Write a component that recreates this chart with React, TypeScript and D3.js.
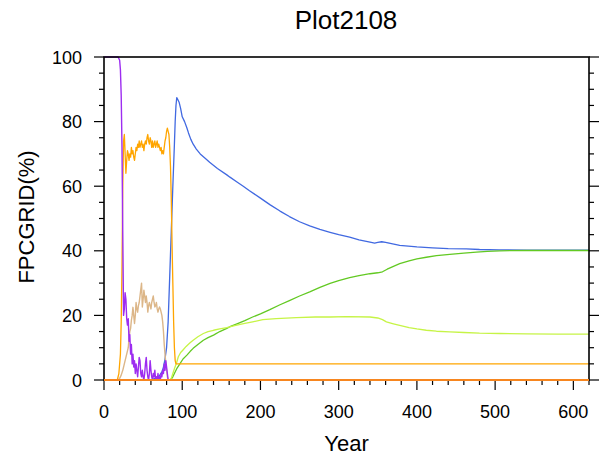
import React from "react";
import * as d3 from "d3";

// Year / percent pairs for each plant functional type curve
const purpleSeries: [number, number][] = [
  [0, 100], [18, 100], [20, 99], [21, 96], [22, 88], [23, 72], [24, 45], [25, 20],
  [26, 22], [27, 27], [28, 25], [29, 19], [30, 17], [31, 19], [32, 12], [33, 14],
  [34, 8], [35, 11], [36, 5], [37, 8], [38, 4], [39, 6], [40, 2], [41, 5], [42, 3],
  [43, 1], [44, 4], [45, 7], [46, 6], [47, 2], [48, 1], [49, 3], [50, 1], [51, 0],
  [52, 2], [53, 5], [54, 7], [55, 3], [56, 1], [57, 0], [58, 2], [59, 6], [60, 3],
  [61, 1], [62, 0], [63, 2], [64, 1], [65, 3], [66, 0], [67, 1], [68, 0], [69, 2],
  [70, 0], [71, 1], [72, 0], [73, 2], [74, 1], [75, 3], [76, 2], [77, 5], [78, 3],
  [79, 6], [80, 4], [81, 2], [82, 0], [620, 0],
];

const orangeSeries: [number, number][] = [
  [0, 0], [17, 0], [19, 2], [21, 8], [22, 18], [23, 35], [24, 60], [25, 74], [26, 76],
  [27, 70], [28, 64], [29, 68], [30, 71], [31, 70], [32, 68], [33, 70], [34, 69],
  [35, 72], [36, 70], [37, 71], [38, 69], [39, 68], [40, 70], [41, 72], [42, 71],
  [43, 73], [44, 72], [45, 74], [46, 72], [47, 73], [48, 74], [49, 72], [50, 73],
  [51, 71], [52, 73], [53, 74], [54, 73], [55, 75], [56, 76], [57, 74], [58, 73],
  [59, 75], [60, 74], [61, 72], [62, 74], [63, 72], [64, 73], [65, 74], [66, 72],
  [67, 73], [68, 74], [69, 72], [70, 73], [71, 72], [72, 71], [73, 72], [74, 70],
  [75, 71], [76, 70], [77, 72], [78, 74], [79, 75], [80, 77], [81, 78], [82, 77],
  [83, 76], [84, 72], [85, 66], [86, 56], [87, 42], [88, 30], [89, 18], [90, 10],
  [91, 6], [92, 5], [620, 5],
];

const tanSeries: [number, number][] = [
  [0, 0], [18, 0], [20, 0.5], [22, 1.5], [24, 3], [26, 5], [28, 7], [30, 9], [31, 10],
  [32, 13], [33, 15], [34, 16], [35, 18.5], [36, 20], [37, 22.5], [38, 20], [39, 17.5],
  [40, 20], [41, 24], [42, 22], [43, 21], [44, 23], [45, 24], [46, 26], [47, 28],
  [48, 30], [49, 22.6], [50, 25], [51, 27.8], [52, 26], [53, 24], [54, 26], [55, 24],
  [56, 21], [57, 23], [58, 24], [59, 23], [60, 22], [61, 24], [62, 25], [63, 26],
  [64, 24], [65, 22.6], [66, 23], [67, 24], [68, 22], [69, 21], [70, 22], [71, 22.6],
  [72, 22], [73, 21], [74, 20], [75, 18], [76, 15], [77, 11], [78, 8], [79, 5],
  [80, 3], [81, 1], [82, 0], [620, 0],
];

const blueSeries: [number, number][] = [
  [0, 0], [60, 0], [65, 0.5], [70, 1], [74, 2.5], [76, 4], [78, 6.5], [80, 10],
  [82, 18], [84, 32], [86, 46], [88, 60], [90, 73], [91, 80], [92, 85], [93, 87.4],
  [94, 87], [96, 86], [98, 84], [100, 81.5], [103, 80], [106, 78], [108, 76.5],
  [111, 74.5], [114, 73], [118, 71.5], [123, 70], [130, 68.5], [135, 67.4],
  [145, 65.5], [157, 63.5], [161, 62.8], [170, 61.3], [178, 60], [186, 58.6],
  [200, 56.3], [212, 54.3], [225, 52.3], [237, 50.6], [250, 49], [263, 47.7],
  [276, 46.6], [289, 45.7], [300, 45], [314, 44.2], [326, 43.4], [340, 42.7],
  [346, 42.4], [350, 42.6], [355, 42.8], [360, 42.6], [378, 41.7], [400, 41.2],
  [420, 40.9], [440, 40.7], [463, 40.6], [480, 40.4], [505, 40.3], [540, 40.2],
  [580, 40.2], [620, 40.2],
];

const greenSeries: [number, number][] = [
  [0, 0], [84, 0], [86, 0.3], [88, 1], [90, 2], [93, 3.5], [97, 5], [101, 6.5],
  [106, 7.7], [110, 8.8], [114, 9.8], [120, 11], [127, 12.3], [133, 13.1], [140, 13.9],
  [148, 15], [157, 16], [161, 16.5], [170, 17.4], [180, 18.4], [190, 19.5], [200, 20.5],
  [212, 21.8], [225, 23.3], [237, 24.6], [250, 26], [263, 27.3], [276, 28.7],
  [289, 29.9], [300, 30.8], [314, 31.7], [326, 32.3], [340, 32.9], [350, 33.2],
  [356, 33.5], [362, 34.3], [370, 35.2], [378, 36], [390, 36.9], [400, 37.5],
  [412, 38], [425, 38.5], [442, 38.9], [460, 39.3], [476, 39.6], [490, 39.8],
  [506, 40], [540, 40.1], [580, 40.1], [620, 40.1],
];

const yellowGreenSeries: [number, number][] = [
  [0, 0], [84, 0], [86, 0.5], [88, 2], [90, 3.5], [93, 5.5], [95, 7.2], [98, 8.5],
  [101, 9.3], [105, 10.4], [110, 11.5], [114, 12.3], [120, 13.4], [127, 14.4],
  [133, 15], [140, 15.4], [148, 15.8], [157, 16.2], [167, 16.8], [180, 17.5],
  [190, 18], [203, 18.7], [220, 19], [246, 19.3], [270, 19.5], [289, 19.5],
  [310, 19.6], [340, 19.5], [350, 19.2], [356, 18.7], [361, 18], [370, 17.4],
  [378, 16.9], [390, 16.2], [400, 15.8], [412, 15.4], [425, 15.1], [442, 14.9],
  [460, 14.7], [480, 14.5], [506, 14.4], [540, 14.3], [580, 14.2], [620, 14.2],
];

const zeroSeries: [number, number][] = [
  [0, 0], [620, 0],
];

const xMajorTicks = [0, 100, 200, 300, 400, 500, 600];
const yMajorTicks = [0, 20, 40, 60, 80, 100];

const titleText = "Plot2108";
const xTitle = "Year";
const yTitle = "FPCGRID(%)";

const curves = [
  { data: blueSeries, color: "#4169e1", width: 1.3 },
  { data: greenSeries, color: "#62c922", width: 1.3 },
  { data: yellowGreenSeries, color: "#c6f446", width: 1.3 },
  { data: tanSeries, color: "#dcb688", width: 1.4 },
  { data: orangeSeries, color: "#ffa500", width: 1.3 },
  { data: purpleSeries, color: "#9d2df0", width: 1.4 },
];

export default function App() {
  const width = 601;
  const height = 459;
  const left = 104;
  const right = 589;
  const top = 57;
  const bottom = 380;

  const x = d3.scaleLinear().domain([0, 620]).range([left, right]);
  const y = d3.scaleLinear().domain([0, 100]).range([bottom, top]);

  const line = d3
    .line<[number, number]>()
    .x((d) => x(d[0]))
    .y((d) => y(d[1]));

  const xMinor = d3.range(0, 621, 20).filter((v) => v % 100 !== 0);
  const yMinor = d3.range(0, 101, 5).filter((v) => v % 20 !== 0);
  const font = "'Liberation Sans', Arial, Helvetica, sans-serif";

  return (
    <svg
      width={width}
      height={height}
      style={{ position: "absolute", left: 0, top: 0, background: "#fff" }}
      fontFamily={font}
    >
      <rect x={0} y={0} width={width} height={height} fill="#fff" />
      <text x={346} y={29} fontSize={26} textAnchor="middle" fill="#000">
        {titleText}
      </text>

      <g fill="none" strokeLinejoin="round">
        {curves.map((c, i) => (
          <path key={i} d={line(c.data) ?? ""} stroke={c.color} strokeWidth={c.width} />
        ))}
      </g>

      {/* frame */}
      <rect
        x={left}
        y={top}
        width={right - left}
        height={bottom - top}
        fill="none"
        stroke="#000"
        strokeWidth={1.6}
      />

      {/* bottom axis ticks */}
      <g stroke="#000" strokeWidth={1.2}>
        {xMajorTicks.map((v) => (
          <line key={"xM" + v} x1={x(v)} x2={x(v)} y1={bottom} y2={bottom + 10} />
        ))}
        {xMinor.map((v) => (
          <line key={"xm" + v} x1={x(v)} x2={x(v)} y1={bottom} y2={bottom + 5} />
        ))}
        {yMajorTicks.map((v) => (
          <g key={"yM" + v}>
            <line x1={left - 10} x2={left} y1={y(v)} y2={y(v)} />
            <line x1={right} x2={right + 10} y1={y(v)} y2={y(v)} />
          </g>
        ))}
        {yMinor.map((v) => (
          <g key={"ym" + v}>
            <line x1={left - 5} x2={left} y1={y(v)} y2={y(v)} />
            <line x1={right} x2={right + 5} y1={y(v)} y2={y(v)} />
          </g>
        ))}
      </g>

      {/* zero-level curve drawn over the bottom border */}
      <path d={line(zeroSeries) ?? ""} stroke="#f7861f" strokeWidth={2} fill="none" />

      <g fontSize={18} fill="#000">
        {xMajorTicks.map((v) => (
          <text key={"xl" + v} x={x(v)} y={418} textAnchor="middle">
            {v}
          </text>
        ))}
        {yMajorTicks.map((v) => (
          <text key={"yl" + v} x={82} y={y(v) + 6.5} textAnchor="end">
            {v}
          </text>
        ))}
      </g>

      <text x={346.5} y={451} fontSize={22} textAnchor="middle" fill="#000">
        {xTitle}
      </text>
      <text
        transform={`translate(34, 217) rotate(-90)`}
        fontSize={22}
        textAnchor="middle"
        fill="#000"
      >
        {yTitle}
      </text>
    </svg>
  );
}
